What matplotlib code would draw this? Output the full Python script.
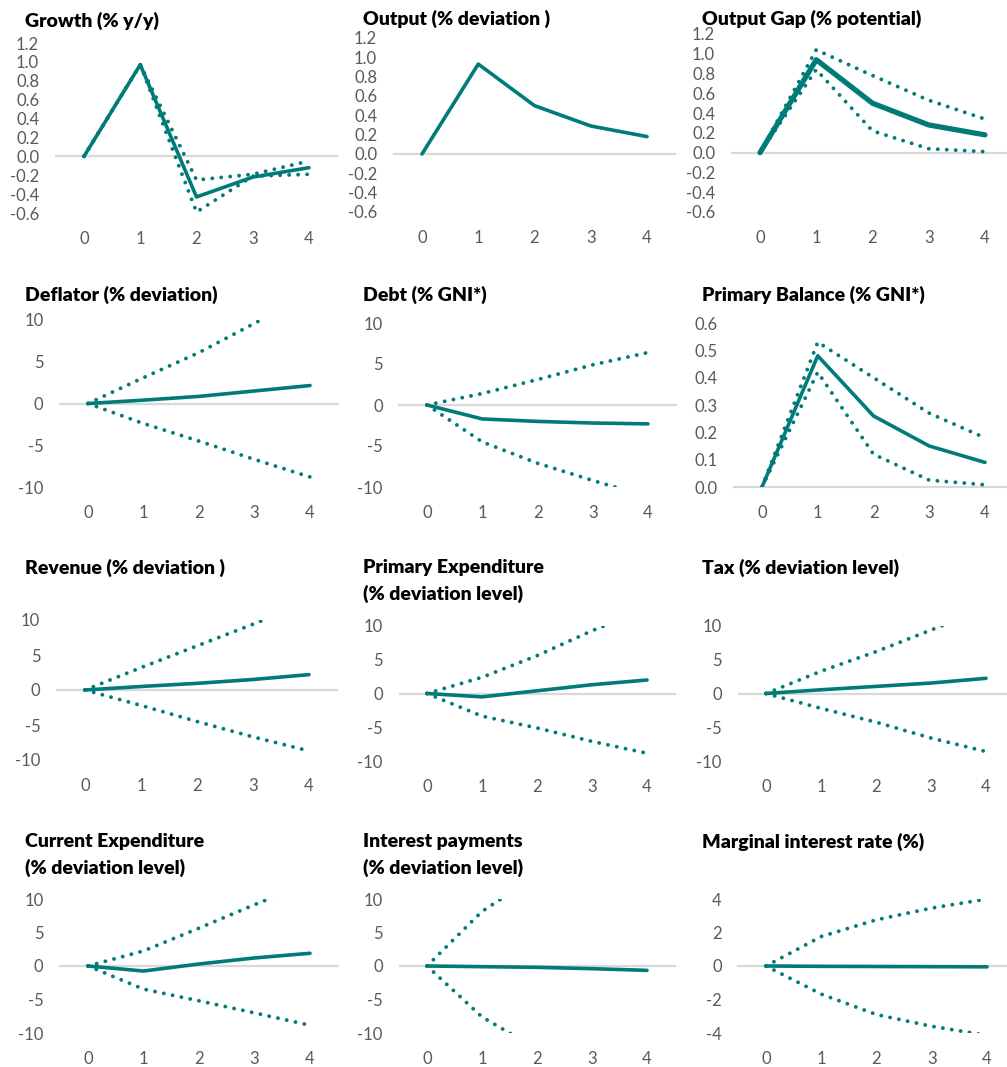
import numpy as np
import matplotlib
matplotlib.use("Agg")
import matplotlib.pyplot as plt

plt.rcParams['font.family'] = ['Lato', 'DejaVu Sans']
plt.rcParams['axes.unicode_minus'] = False

## horizon (years after shock)
x = [0, 1, 2, 3, 4]

## central path, upper band, lower band for each panel
growth = [0, 0.97, -0.43, -0.22, -0.12]
growth_hi = [0, 0.97, -0.25, -0.19, -0.05]
growth_lo = [0, 0.97, -0.59, -0.21, -0.19]

output = [0, 0.93, 0.50, 0.29, 0.18]

gap = [0, 0.94, 0.50, 0.28, 0.18]
gap_hi = [0, 1.04, 0.78, 0.53, 0.34]
gap_lo = [0, 0.84, 0.22, 0.04, 0.01]

deflator = [0, 0.4, 0.85, 1.5, 2.15]
deflator_hi = [0, 3.1, 6.1, 9.6, 13.2]
deflator_lo = [0, -2.4, -4.5, -6.7, -8.8]

debt = [0, -1.7, -2.0, -2.2, -2.3]
debt_hi = [0, 1.4, 3.1, 4.9, 6.4]
debt_lo = [0, -4.5, -7.1, -9.2, -11.2]

prim_bal = [0, 0.48, 0.26, 0.15, 0.09]
prim_bal_hi = [0, 0.53, 0.40, 0.27, 0.18]
prim_bal_lo = [0, 0.42, 0.12, 0.025, 0.008]

revenue = [0, 0.5, 0.95, 1.5, 2.2]
revenue_hi = [0, 3.2, 6.3, 9.4, 12.6]
revenue_lo = [0, -2.2, -4.5, -6.7, -8.7]

prim_exp = [0, -0.5, 0.4, 1.3, 2.0]
prim_exp_hi = [0, 2.4, 5.6, 9.3, 12.5]
prim_exp_lo = [0, -3.35, -5.1, -7.1, -8.85]

tax = [0, 0.55, 1.05, 1.55, 2.25]
tax_hi = [0, 3.3, 6.2, 9.4, 12.6]
tax_lo = [0, -2.2, -4.25, -6.6, -8.6]

cur_exp = [0, -0.75, 0.3, 1.2, 1.9]
cur_exp_hi = [0, 2.25, 5.65, 9.15, 12.5]
cur_exp_lo = [0, -3.45, -5.2, -7.0, -8.85]

interest = [0, -0.1, -0.2, -0.4, -0.65]
interest_hi = [0, 8.15, 13.5, 18.0, 22.0]
interest_lo = [0, -7.6, -12.4, -16.5, -20.0]

marginal = [0, -0.02, -0.03, -0.04, -0.05]
marginal_hi = [0, 1.76, 2.76, 3.46, 4.0]
marginal_lo = [0, -1.68, -2.9, -3.6, -4.14]

titles = ['Growth (% y/y)', 'Output (% deviation )', 'Output Gap (% potential)',
          'Deflator (% deviation)', 'Debt (% GNI*)', 'Primary Balance (% GNI*)',
          'Revenue (% deviation )', 'Primary Expenditure\n(% deviation level)', 'Tax (% deviation level)',
          'Current Expenditure\n(% deviation level)', 'Interest payments\n(% deviation level)',
          'Marginal interest rate (%)']

ticks_small = [-0.6, -0.4, -0.2, 0.0, 0.2, 0.4, 0.6, 0.8, 1.0, 1.2]
ticks_pb = [0.0, 0.1, 0.2, 0.3, 0.4, 0.5, 0.6]
ticks_ten = [-10, -5, 0, 5, 10]
ticks_four = [-4, -2, 0, 2, 4]

panels = [
    (growth, growth_hi, growth_lo, ticks_small, '%.1f'),
    (output, None, None, ticks_small, '%.1f'),
    (gap, gap_hi, gap_lo, ticks_small, '%.1f'),
    (deflator, deflator_hi, deflator_lo, ticks_ten, '%d'),
    (debt, debt_hi, debt_lo, ticks_ten, '%d'),
    (prim_bal, prim_bal_hi, prim_bal_lo, ticks_pb, '%.1f'),
    (revenue, revenue_hi, revenue_lo, ticks_ten, '%d'),
    (prim_exp, prim_exp_hi, prim_exp_lo, ticks_ten, '%d'),
    (tax, tax_hi, tax_lo, ticks_ten, '%d'),
    (cur_exp, cur_exp_hi, cur_exp_lo, ticks_ten, '%d'),
    (interest, interest_hi, interest_lo, ticks_ten, '%d'),
    (marginal, marginal_hi, marginal_lo, ticks_four, '%d'),
]

## pixel layout: x of category 0, x of category 4, y of top tick, y of bottom tick
layout = [(84, 309, 43, 213), (422, 647, 38, 212), (760, 985, 34, 212),
          (88, 310, 320, 487), (427, 648, 323, 487), (762, 985, 323, 487),
          (85, 309, 620, 760), (427, 647, 626, 761), (766, 986, 626, 761),
          (88, 310, 899, 1033), (427, 647, 899, 1033), (766, 987, 899, 1033)]
title_pos = [(25, 21), (363, 19), (702, 19),
             (25, 295), (363, 295), (702, 295),
             (25, 568), (363, 568), (702, 568),
             (25, 842), (363, 842), (702, 842)]

W, H = 1007, 1067
teal = '#007b78'
fig = plt.figure(figsize=(W / 100, H / 100), dpi=100)

for i, (mid, hi, lo, ticks, fmt) in enumerate(panels):
    x0, x4, ytop, ybot = layout[i]
    unit = (x4 - x0) / 4
    left = x0 - unit / 2
    ax = fig.add_axes([left / W, 1 - ybot / H, 5 * unit / W, (ybot - ytop) / H])
    ax.set_xlim(-0.5, 4.5)
    ax.set_ylim(ticks[0], ticks[-1])
    ax.axhline(0, color='#d9d9d9', lw=1.6, zorder=1, clip_on=False)
    lw = 3.8 if i == 2 else 2.6
    ax.plot(x, mid, color=teal, lw=lw, solid_capstyle='round', solid_joinstyle='round', zorder=3)
    if hi is not None:
        for band in (hi, lo):
            ax.plot(x, band, color=teal, lw=2.8, linestyle=(0, (0.01, 2.3)),
                    dash_capstyle='round', zorder=2)
    ax.set_xticks(x)
    ax.set_yticks(ticks)
    ax.set_yticklabels([fmt % t for t in ticks])
    for s in ax.spines.values():
        s.set_visible(False)
    ax.tick_params(length=0, labelsize=12, labelcolor='#595959')
    ax.tick_params(axis='y', pad=12)
    ax.tick_params(axis='x', pad=13)
    ax.patch.set_alpha(0)

    tx, ty = title_pos[i]
    lines = titles[i].split('\n')
    for k, line in enumerate(lines):
        fig.text(tx / W, 1 - (ty + 25.5 * k) / H, line, ha='left', va='center',
                 fontsize=14, fontweight='heavy', color='black')

fig.savefig('out.png', dpi=100)
